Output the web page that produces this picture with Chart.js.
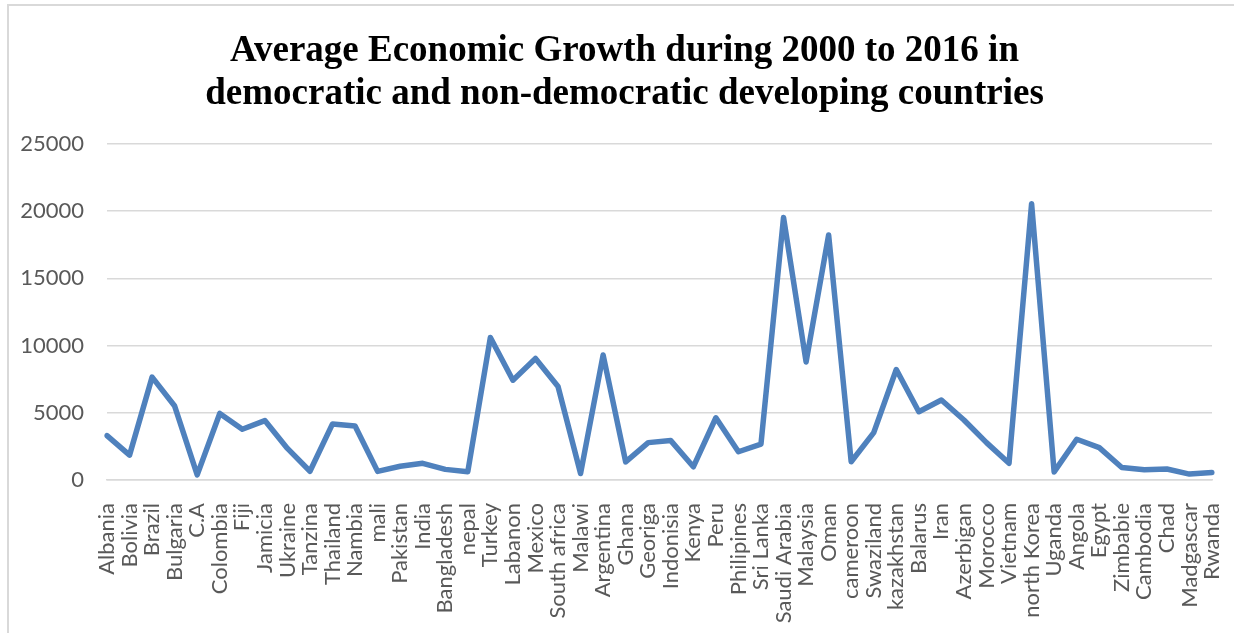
<!DOCTYPE html>
<html lang="en">
<head>
  <meta charset="UTF-8">
  <title>Average Economic Growth during 2000 to 2016</title>
  <style>
    html, body {
      margin: 0;
      padding: 0;
      background: #ffffff;
      overflow: hidden;
    }
    #frame {
      position: absolute;
      left: 7px;
      top: 4px;
      width: 1240px;
      height: 640px;
      border: 2px solid #d9d9d9;
    }
    #chartBox {
      position: absolute;
      left: 0;
      top: 0;
      width: 1234px;
      height: 633px;
    }
  </style>
</head>
<body>
  <div id="frame"></div>
  <div id="chartBox">
    <canvas id="growthChart"></canvas>
  </div>

  <script src="https://cdn.jsdelivr.net/npm/chart.js"></script>
  <script>
    const countries = [
      'Albania', 'Bolivia', 'Brazil', 'Bulgaria', 'C.A', 'Colombia', 'Fiji', 'Jamicia',
      'Ukraine', 'Tanzina', 'Thailand', 'Nambia', 'mali', 'Pakistan', 'India', 'Bangladesh',
      'nepal', 'Turkey', 'Labanon', 'Mexico', 'South africa', 'Malawi', 'Argentina', 'Ghana',
      'Georiga', 'Indonisia', 'Kenya', 'Peru', 'Philipines', 'Sri Lanka', 'Saudi Arabia',
      'Malaysia', 'Oman', 'cameroon', 'Swaziland', 'kazakhstan', 'Balarus', 'Iran',
      'Azerbigan', 'Morocco', 'Vietnam', 'north Korea', 'Uganda', 'Angola', 'Egypt',
      'Zimbabie', 'Cambodia', 'Chad', 'Madgascar', 'Rwanda'
    ];

    // average growth
    const avgGrowth = [
      3300, 1850, 7650, 5500, 380, 4950, 3770, 4420,
      2350, 650, 4170, 4020, 640, 1020, 1240, 790,
      620, 10600, 7420, 9040, 6950, 480, 9300, 1350,
      2780, 2930, 980, 4630, 2100, 2670, 19520,
      8780, 18220, 1360, 3520, 8220, 5080, 5950,
      4460, 2780, 1240, 20540, 600, 3030, 2410,
      930, 770, 820, 440, 560
    ];

    const yTicks = { min: 0, max: 25000, step: 5000 };

    const titleLines = [
      'Average Economic Growth during 2000 to 2016 in',
      'democratic and non-democratic developing countries'
    ];

    const ctx = document.getElementById('growthChart').getContext('2d');

    new Chart(ctx, {
      type: 'line',
      data: {
        labels: countries,
        datasets: [
          {
            label: 'Average Economic Growth',
            data: avgGrowth,
            borderColor: '#4f81bd',
            backgroundColor: '#4f81bd',
            borderWidth: 5.5,
            borderJoinStyle: 'round',
            borderCapStyle: 'round',
            pointRadius: 0,
            pointHoverRadius: 0,
            tension: 0,
            fill: false,
          },
        ],
      },
      options: {
        responsive: true,
        maintainAspectRatio: false,
        animation: false,
        layout: {
          padding: { left: 15, right: 0, top: 0, bottom: 0 },
        },
        plugins: {
          legend: { display: false },
          tooltip: { enabled: false },
          title: {
            display: true,
            text: titleLines,
            color: '#000000',
            font: { family: 'Liberation Serif', size: 37, weight: 'bold', lineHeight: 1.16 },
            padding: { top: 30, bottom: 28 },
          },
        },
        scales: {
          x: {
            offset: false,
            grid: { display: false },
            border: { display: true, color: '#d9d9d9', width: 1.5 },
            ticks: {
              autoSkip: false,
              maxRotation: 90,
              minRotation: 90,
              padding: 15,
              color: '#595959',
              font: { family: 'Lato', size: 22 },
            },
            afterFit: function (scale) {
              // keep the plot box where the reference has it
              scale.height = 153;
              scale.paddingLeft = 0;
              scale.paddingRight = 22;
            },
          },
          y: {
            min: yTicks.min,
            max: yTicks.max,
            border: { display: false },
            grid: { color: '#d9d9d9', lineWidth: 1.5, drawTicks: false },
            ticks: {
              stepSize: yTicks.step,
              padding: 23,
              color: '#595959',
              font: { family: 'Lato', size: 22 },
              callback: function (value) {
                return String(value);
              },
            },
            afterFit: function (scale) {
              scale.width = 92;
            },
          },
        },
      },
    });
  </script>
</body>
</html>
